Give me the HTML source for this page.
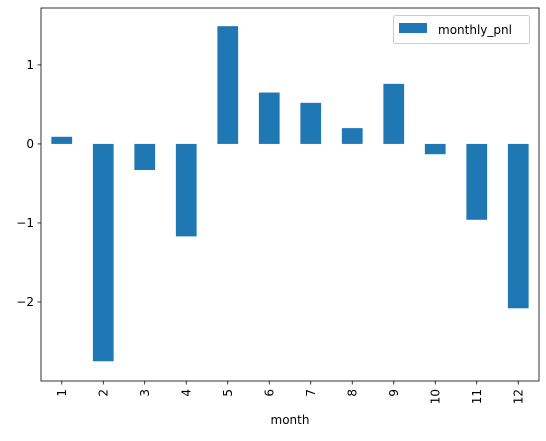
<!DOCTYPE html>
<html><head><meta charset="utf-8"><style>
body{margin:0;background:#fff;font-family:"Liberation Sans","DejaVu Sans",sans-serif}
svg text{font-family:"DejaVu Sans","Liberation Sans",sans-serif;font-size:12px;fill:#000}
</style></head><body>
<svg id="chart" width="546" height="436">
<g id="marks"></g>
<rect x="41" y="8" width="498" height="373" fill="none" stroke="#000" stroke-width="0.8"/>
<g id="axes"></g>
<text x="290" y="424" text-anchor="middle">month</text>
<g>
<rect x="393.5" y="15.5" width="136" height="28" fill="#fff" stroke="#ccc" rx="2"/>
<rect x="399" y="23" width="28" height="10" fill="#1f77b4"/>
<text x="438" y="34">monthly_pnl</text>
</g>
</svg>
<script>
const categories=["1","2","3","4","5","6","7","8","9","10","11","12"];
const values=[0.09,-2.75,-0.33,-1.17,1.49,0.65,0.52,0.2,0.76,-0.13,-0.96,-2.08];
const yTicks=[1,0,-1,-2];
const yTickLabels=["1","0","\u22121","\u22122"];
const X0=41,W=498,Y0=8,H=373,yMax=1.72,yMin=-3.0;
const ns="http://www.w3.org/2000/svg";
const y=v=>Y0+(yMax-v)/(yMax-yMin)*H;
const slot=W/categories.length;
const xc=i=>X0+slot*(i+0.5);
const marks=document.getElementById('marks'),axes=document.getElementById('axes');
function mk(t,a,p){const e=document.createElementNS(ns,t);for(const k in a)e.setAttribute(k,a[k]);p.appendChild(e);return e;}
values.forEach((v,i)=>{
const r=mk('rect',{x:xc(i)-slot/4,y:Math.min(y(v),y(0)),width:slot/2,height:Math.abs(y(v)-y(0)),fill:'#1f77b4'},marks);


const t=mk('line',{x1:xc(i),x2:xc(i),y1:381,y2:384.5,stroke:'#000','stroke-width':0.8},axes);


const lx=xc(i)+4,ly=389;
const l=mk('text',{x:lx,y:ly,'text-anchor':'end',transform:`rotate(-90 ${lx} ${ly})`},axes);
l.textContent=categories[i];


});
yTicks.forEach((v,i)=>{
const t=mk('line',{x1:37.5,x2:41,y1:y(v),y2:y(v),stroke:'#000','stroke-width':0.8},axes);


const l=mk('text',{x:34,y:y(v)+4,'text-anchor':'end'},axes);
l.textContent=yTickLabels[i];


});
</script>
</body></html>
